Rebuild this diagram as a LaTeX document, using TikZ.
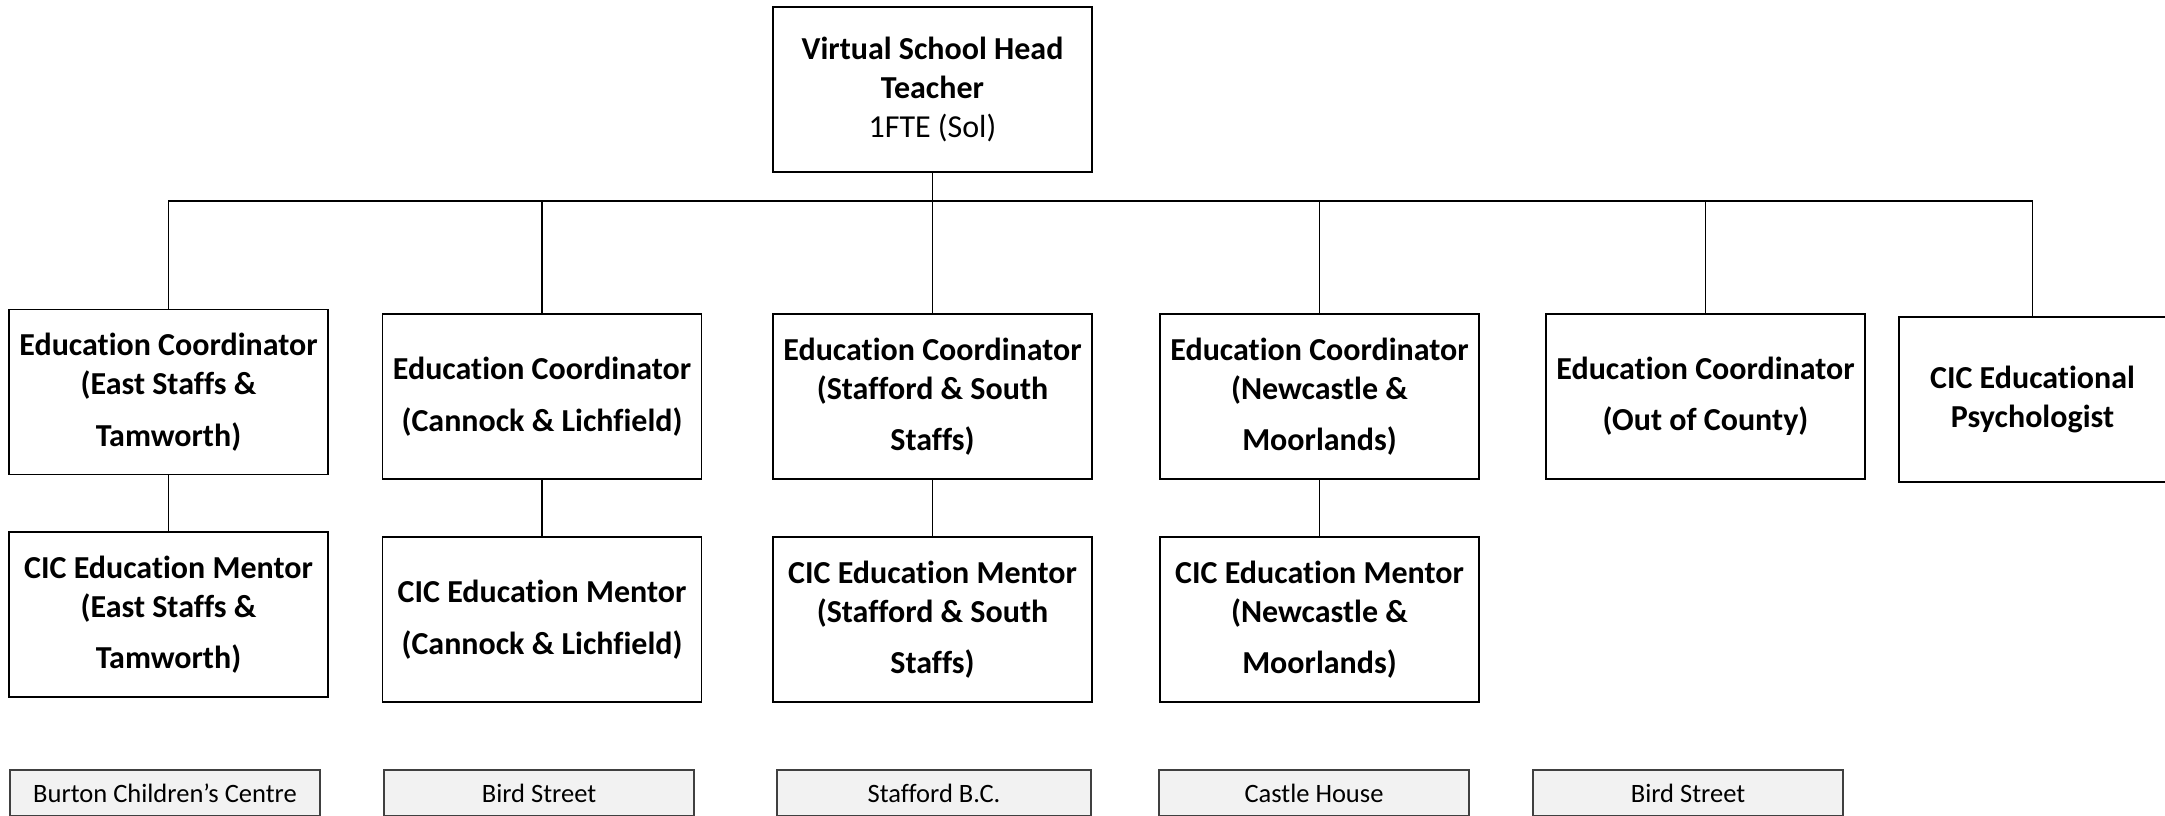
\documentclass[tikz,border=0pt]{standalone}
\usepackage{fontspec}
\setmainfont{Carlito}[RawFeature={-liga}]
\begin{document}
\begin{tikzpicture}[x=0.5pt,y=-0.5pt,
  box/.style={draw=black, line width=0.55pt, fill=white, minimum width=159.5pt, minimum height=82.5pt, inner sep=0pt, align=center, font=\fontsize{16}{19.5}\selectfont\bfseries},
  loc/.style={draw=black!75, line width=0.55pt, fill=black!5, minimum width=155pt, minimum height=23pt, inner sep=0pt, font=\fontsize{13.25}{16}\selectfont},
  conn/.style={line width=0.8pt}]
\useasboundingbox (0,0) rectangle (2165,815);
\clip (0,0) rectangle (2165,815);
% top
\node[box] (top) at (932.5,89.5) {Virtual School Head\\Teacher\\{\mdseries 1FTE (Sol)}};
% coordinators
\node[box] (c1) at (168.5,392) {Education Coordinator\\(East Staffs \&\\[6.25pt]Tamworth)};
\node[box] (c2) at (542,396.5) {Education Coordinator\\[6.25pt](Cannock \& Lichfield)};
\node[box] (c3) at (932.5,396.5) {Education Coordinator\\(Stafford \& South\\[6.25pt]Staffs)};
\node[box] (c4) at (1319.5,396.5) {Education Coordinator\\(Newcastle \&\\[6.25pt]Moorlands)};
\node[box] (c5) at (1705.5,396.5) {Education Coordinator\\[6.25pt](Out of County)};
\node[box, minimum width=133.5pt] (ps) at (2032.5,399.5) {CIC Educational\\Psychologist};
% mentors
\node[box] (m1) at (168.5,614.5) {CIC Education Mentor\\(East Staffs \&\\[6.25pt]Tamworth)};
\node[box] (m2) at (542,619.5) {CIC Education Mentor\\[6.25pt](Cannock \& Lichfield)};
\node[box] (m3) at (932.5,619.5) {CIC Education Mentor\\(Stafford \& South\\[6.25pt]Staffs)};
\node[box] (m4) at (1319.5,619.5) {CIC Education Mentor\\(Newcastle \&\\[6.25pt]Moorlands)};
% locations
\node[loc] (l1) at (165,793) {Burton Children’s Centre};
\node[loc] (l2) at (539,793) {Bird Street};
\node[loc, minimum width=157pt] (l3) at (934,793) {Stafford B.C.};
\node[loc] (l4) at (1314,793) {Castle House};
\node[loc] (l5) at (1688,793) {Bird Street};
% connectors
\coordinate (bus) at (932.5,201);
\draw[conn] (top.south) -- (bus);
\draw[conn] (c1.north) |- (bus) -| (ps.north);
\draw[conn] (c2.north) -- (c2.north |- bus);
\draw[conn] (c3.north) -- (bus);
\draw[conn] (c4.north) -- (c4.north |- bus);
\draw[conn] (c5.north) -- (c5.north |- bus);
\draw[conn] (c1.south) -- (m1.north);
\draw[conn] (c2.south) -- (m2.north);
\draw[conn] (c3.south) -- (m3.north);
\draw[conn] (c4.south) -- (m4.north);
\end{tikzpicture}
\end{document}
